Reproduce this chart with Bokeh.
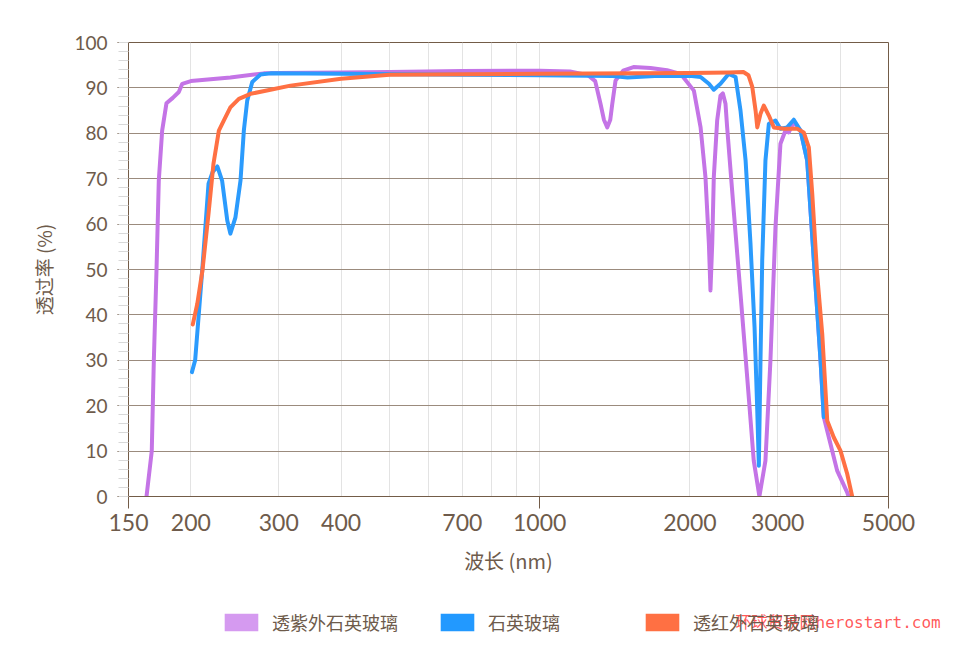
from bokeh.plotting import figure
from bokeh.models import (Range1d, FixedTicker, SingleIntervalTicker, Legend, LegendItem,
                          ColumnDataSource, Label)
from bokeh.embed import file_html
from bokeh.resources import INLINE

# ---------------- data ----------------
uv_x = [163, 167, 168.6, 170.7, 172.5, 175.2, 178.7, 184, 189.2, 192.2, 200, 240, 280, 300,
        400, 500, 700, 1000, 1150, 1250, 1292, 1324, 1345, 1366, 1385, 1398, 1419, 1470,
        1542, 1667, 1800, 1915, 2037, 2101, 2149, 2183, 2199, 2217, 2233, 2268, 2303, 2328,
        2357, 2375, 2448, 2526, 2605, 2685, 2756, 2834, 2900, 2968, 3037, 3108, 3156, 3229,
        3332, 3436, 3543, 3654, 3709, 3825, 3945, 4132, 4158]
uv_y = [0, 10, 30, 50, 69.6, 80.6, 86.6, 87.8, 89.1, 90.9, 91.5, 92.3, 93.2, 93.3,
        93.4, 93.5, 93.7, 93.8, 93.6, 92.8, 91.5, 86.5, 83, 81.3, 83, 86.5, 91.6, 93.8,
        94.6, 94.4, 93.9, 93.1, 89.4, 81.3, 70.3, 55.7, 45.4, 55.7, 70.3, 82.8, 88.3, 88.8,
        86.5, 81.3, 63, 44.6, 26.3, 7.9, 0, 7.9, 30, 59.3, 77.7, 80.6, 80.2, 82.4,
        80.6, 74, 52, 30, 17.5, 11.6, 5.7, 0.9, 0]

q_x = [201, 204, 211, 217, 221, 226, 231, 236.6, 240, 245.7, 251.5, 255.4, 259.4, 265.5,
       275.8, 288.8, 400, 700, 1000, 1400, 1500, 1700, 2000, 2101, 2183, 2233, 2303, 2393,
       2469, 2526, 2586, 2645, 2695, 2729, 2749, 2770, 2792, 2834, 2879, 2968, 3037, 3133,
       3230, 3332, 3436, 3543, 3654, 3709]
q_y = [27.4, 30, 50.5, 68.9, 71.4, 72.7, 69.6, 60.8, 57.9, 61.5, 69.6, 80.6, 87.2, 91.3,
       92.95, 93.2, 93.1, 92.9, 92.8, 92.6, 92.3, 92.6, 92.7, 92.4, 90.9, 89.6, 90.9, 93.1,
       92.4, 85, 74, 55.7, 37.3, 18.9, 6.8, 30, 52, 74, 82.1, 82.8, 81, 81.3,
       83, 80.6, 74, 52, 30, 17.5]

ir_x = [201.8, 206, 211, 217, 222, 227.6, 232.8, 240, 249.6, 263.4, 288.8, 316.7, 400, 500,
        700, 1000, 2000, 2400, 2560, 2620, 2667, 2708, 2729, 2770, 2813, 2879, 2946, 3085,
        3281, 3382, 3462, 3517, 3597, 3683, 3769, 3885, 4006, 4132, 4229]
ir_y = [37.9, 42.4, 49.8, 62.3, 73.3, 80.6, 82.8, 85.7, 87.6, 88.7, 89.6, 90.5, 92.0, 92.9,
        93.0, 93.1, 93.3, 93.4, 93.5, 92.8, 90.2, 85, 81.3, 84.3, 86.1, 83.9, 81.3, 81.0,
        81.0, 80.2, 76.9, 66.7, 49, 35.8, 16.7, 13, 10.1, 5, 0]

series_names = ["透紫外石英玻璃", "石英玻璃", "透红外石英玻璃"]
line_colors = ["#c474e6", "#2b9bfd", "#ff7043"]
swatch_colors = ["#d59af0", "#2299ff", "#ff7043"]

x_tick_values = [150, 200, 300, 400, 700, 1000, 2000, 3000, 5000]
x_grid_values = [200, 300, 400, 500, 600, 700, 800, 900, 1000, 2000, 3000, 4000]
x_small_ticks = [150, 1000, 5000]

x_label = "波长 (nm)"
y_label = "透过率 (%)"
watermark = "环球贸易网herostart.com"

# ---------------- style ----------------
TXT = "#6e5b4b"
AXC = "#735c48"
NUM_FONT = "Lato"
CJK_FONT = "Noto Sans CJK SC"

p = figure(width=947, height=588, x_axis_type="log",
           x_range=Range1d(150, 5000), y_range=Range1d(0, 100),
           output_backend="svg", toolbar_location=None,
           min_border_left=128, min_border_right=59, min_border_top=42, min_border_bottom=92)

p.outline_line_color = AXC
p.outline_line_width = 1
p.background_fill_color = "white"
p.border_fill_color = "white"

# x axis
xa = p.xaxis[0]
xa.ticker = FixedTicker(ticks=x_tick_values, minor_ticks=x_small_ticks)
xa.major_tick_line_color = None
xa.major_tick_out = 12
xa.major_tick_in = 0
xa.minor_tick_line_color = AXC
xa.minor_tick_out = 12
xa.minor_tick_in = 0
xa.axis_line_color = AXC
xa.major_label_text_font = NUM_FONT
xa.major_label_text_font_size = "23px"
xa.major_label_text_color = TXT
xa.major_label_standoff = 5
xa.major_label_overrides = {v: str(v) for v in x_tick_values}
xa.axis_label = x_label
xa.axis_label_text_font = CJK_FONT
xa.axis_label_text_font_size = "20px"
xa.axis_label_text_font_style = "normal"
xa.axis_label_text_color = TXT
xa.axis_label_standoff = 12

# y axis
ya = p.yaxis[0]
ya.ticker = SingleIntervalTicker(interval=10, num_minor_ticks=5)
ya.major_tick_line_color = AXC
ya.major_tick_out = 11
ya.major_tick_in = 0
ya.minor_tick_line_color = "#d9d9d9"
ya.minor_tick_out = 10
ya.minor_tick_in = 0
ya.axis_line_color = AXC
ya.major_label_text_font = NUM_FONT
ya.major_label_text_font_size = "19px"
ya.major_label_text_color = TXT
ya.major_label_standoff = 10
ya.axis_label = y_label
ya.axis_label_text_font = CJK_FONT
ya.axis_label_text_font_size = "19px"
ya.axis_label_text_font_style = "normal"
ya.axis_label_text_color = TXT
ya.axis_label_standoff = 14

# grids
p.xgrid.ticker = FixedTicker(ticks=x_grid_values)
p.xgrid.grid_line_color = "#e3e3e3"
p.xgrid.grid_line_width = 1
p.ygrid.grid_line_color = "#9b8b7d"
p.ygrid.grid_line_width = 1

# lines
xs = [uv_x, q_x, ir_x]
ys = [uv_y, q_y, ir_y]
for x, y, c in zip(xs, ys, line_colors):
    p.line(x, y, line_color=c, line_width=4, line_join="round", line_cap="round")

# ---------------- legend strip (separate root, not aligned) ----------------
lp = figure(width=947, height=70, x_range=Range1d(0, 1), y_range=Range1d(0, 1),
            output_backend="svg", toolbar_location=None,
            x_axis_location=None, y_axis_location=None,
            min_border_left=0, min_border_right=0, min_border_top=0, min_border_bottom=0)
lp.grid.visible = False
lp.outline_line_color = None
lp.background_fill_color = "white"
lp.border_fill_color = "white"

nan = float("nan")
items = []
for name, sc in zip(series_names, swatch_colors):
    src = ColumnDataSource(dict(left=[nan], right=[nan], top=[nan], bottom=[nan]))
    r = lp.quad(left="left", right="right", top="top", bottom="bottom", source=src,
                fill_color=sc, line_color=None)
    items.append(LegendItem(label=name, renderers=[r]))

legend = Legend(items=items, orientation="horizontal", location=(220, 23),
                glyph_width=42, glyph_height=22, label_standoff=10,
                label_width=115, label_height=22, spacing=38,
                padding=0, margin=0, border_line_color=None, background_fill_alpha=0,
                label_text_font=CJK_FONT, label_text_font_size="18px",
                label_text_color=TXT)
lp.add_layout(legend)

wm = Label(x=735, y=36, x_units="screen", y_units="screen", text=watermark,
           text_font="DejaVu Sans Mono, Noto Sans CJK SC", text_font_size="16px",
           text_color="#ff3b3b", text_alpha=0.85, text_baseline="middle")
lp.add_layout(wm)

open("out.html", "w").write(file_html([p, lp], INLINE))
